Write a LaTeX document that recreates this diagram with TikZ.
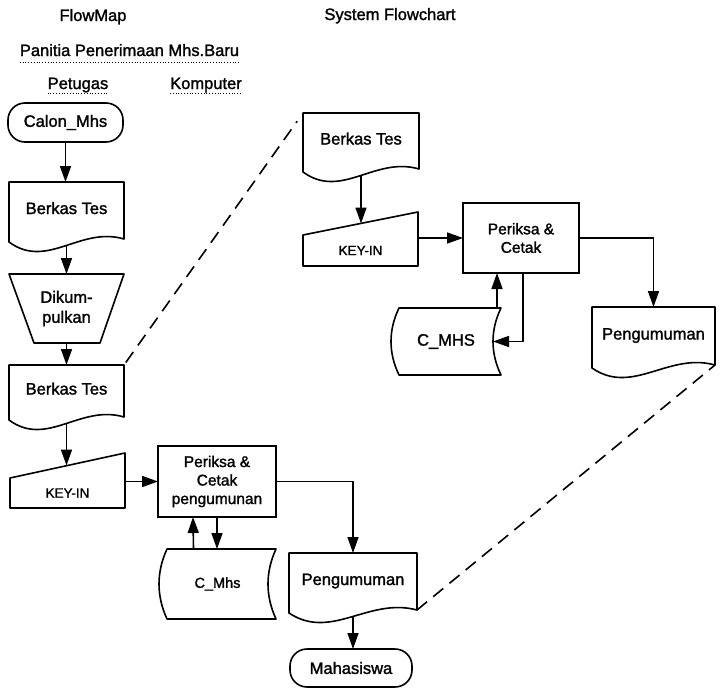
\documentclass[tikz,border=0pt]{standalone}
\usepackage{fontspec}
\setmainfont{Liberation Sans}[FakeBold=1.5]
\usetikzlibrary{arrows.meta,calc}

% outline of a document symbol (wavy lower edge) around a named node
\newcommand{\docoutline}[1]{%
  \draw[outline] (#1.south west) -- (#1.north west) -- (#1.north east) -- ($(#1.south east)+(0,-3)$)
    .. controls ($(#1.south west)!0.62!(#1.south east)+(0,-16)$)
           and ($(#1.south west)!0.33!(#1.south east)+(0,28)$) .. (#1.south west) -- cycle;}
% outline of a stored-data symbol; #2 = depth of the curved sides
\newcommand{\storeoutline}[2]{%
  \draw[outline] ($(#1.north west)+(#2,0)$) -- (#1.north east)
    .. controls ($(#1.north east)!0.33!(#1.south east)+({-4/3*#2},0)$)
           and ($(#1.south east)!0.33!(#1.north east)+({-4/3*#2},0)$) .. (#1.south east)
    -- ($(#1.south west)+(#2,0)$)
    .. controls ($(#1.south west)!0.33!(#1.north west)+({-#2/3},0)$)
           and ($(#1.north west)!0.33!(#1.south west)+({-#2/3},0)$) .. cycle;}
% outline of a manual-input symbol; #2 = rise of the sloped top edge
\newcommand{\keyoutline}[2]{%
  \draw[outline] (#1.north west) -- ($(#1.north east)+(0,-#2)$) -- (#1.south east)
    -- (#1.south west) -- cycle;}

\tikzset{
  outline/.style={line width=1.6pt, line join=round},
  arr/.style={line width=1.6pt, -{Triangle[length=16pt,width=11pt]}},
  linkline/.style={line width=1.6pt, dash pattern=on 13pt off 8pt},
  base/.style={inner sep=0pt, outer sep=0pt, font=\fontsize{16.5}{18}\selectfont, align=center},
  title/.style={inner sep=0pt, anchor=base, font=\fontsize{16.5}{18}\selectfont},
  terminal/.style={base, draw, line width=1.6pt, rounded corners=17pt},
  process/.style={base, draw, line width=1.6pt, font=\fontsize{15.5}{18.5}\selectfont},
  doc/.style={base, text height=12pt, text depth=8pt},
  keyin/.style={base, font=\fontsize{13.5}{16}\selectfont},
  store/.style={base},
  underl/.style={line width=0.8pt, dotted},
}

\begin{document}
\begin{tikzpicture}[x=1pt, y=-1pt]
\path[use as bounding box] (0,0) rectangle (720,699);

% headings
\node[title] (hfm) at (93,21) {FlowMap};
\node[title] (hsf) at (390,20) {System Flowchart};
\node[title] (hpan) at (129.5,56) {Panitia Penerimaan Mhs.Baru};
\node[title] (hpet) at (78,89) {Petugas};
\node[title] (hkom) at (206,89) {Komputer};
\draw[underl] (hpan.base west) ++(0,6) coordinate (u1) -- (u1 -| hpan.base east);
\draw[underl] (hpet.base west) ++(0,4) coordinate (u2) -- (u2 -| hpet.base east);
\draw[underl] (hkom.base west) ++(0,4) coordinate (u3) -- (u3 -| hkom.base east);

% ---------------- FlowMap ----------------
\node[terminal, minimum width=115pt, minimum height=39pt] (calon) at (65.5,122.5) {Calon\_Mhs};

\node[doc, minimum width=115pt, minimum height=60pt] (b1) at (66.5,212) {Berkas Tes};
\docoutline{b1}

\node[base, minimum width=115pt, minimum height=69pt] (kumpul) at (66.5,308.5) {Dikum-\\[2pt]pulkan};
\draw[outline] (kumpul.north west) -- (kumpul.north east) -- ($(kumpul.south east)+(-24,0)$)
  -- ($(kumpul.south west)+(25,0)$) -- cycle;

\node[doc, minimum width=115pt, minimum height=55pt] (b2) at (66.5,392.5) {Berkas Tes};
\docoutline{b2}

\node[keyin, minimum width=115pt, minimum height=30pt] (key1) at (67.5,493) {KEY-IN};
\keyoutline{key1}{25}
\coordinate (k1top) at ($(key1.north west)!0.5!($(key1.north east)+(0,-25)$)$);

\node[process, minimum width=118pt, minimum height=71pt] (proc1) at (217,481.5) {Periksa \&\\Cetak\\pengumunan};

\node[store, minimum width=117pt, minimum height=70pt, font=\fontsize{14.5}{17}\selectfont] (cmhs1) at (217.5,584) {C\_Mhs};
\storeoutline{cmhs1}{8}

\node[doc, minimum width=128pt, minimum height=60pt] (peng1) at (353,583) {Pengumuman};
\docoutline{peng1}

\node[terminal, minimum width=122pt, minimum height=38pt] (mhs) at (351,668) {Mahasiswa};

\draw[arr] (calon.south) -- (calon.south |- b1.north);
\draw[arr] ($(b1.south)+(0,4)$) -- (b1.south |- kumpul.north);
\draw[arr] (kumpul.south) -- (kumpul.south |- b2.north);
\draw[arr] ($(b2.south)+(0,4)$) -- (b2.south |- k1top);
\draw[arr] (proc1.west -| key1.east) -- (proc1.west);
\draw[arr] ($(cmhs1.north)+(-24,0)$) -- ($(proc1.south)+(-24,0)$);
\draw[arr] (proc1.south) -- (proc1.south |- cmhs1.north);
\draw[arr] (proc1.east) -| (peng1.north);
\draw[arr] ($(peng1.south)+(0,4)$) -- (peng1.south |- mhs.north);

% ---------------- System Flowchart ----------------
\node[doc, minimum width=116pt, minimum height=59pt] (b3) at (361,142.5) {Berkas Tes};
\docoutline{b3}

\node[keyin, minimum width=115pt, minimum height=31pt] (key2) at (360.5,250.5) {KEY-IN};
\keyoutline{key2}{23}
\coordinate (k2top) at ($(key2.north west)!0.5!($(key2.north east)+(0,-23)$)$);

\node[process, minimum width=116pt, minimum height=70pt] (proc2) at (521,238) {Periksa \&\\Cetak};

\node[store, minimum width=110pt, minimum height=67pt] (cmhs2) at (446,341.5) {C\_MHS};
\storeoutline{cmhs2}{8}
\coordinate (c2up) at ($(cmhs2.north east)+(-4,0)$);
\coordinate (c2in) at ($(cmhs2.east)+(-8,0)$);

\node[doc, minimum width=123pt, minimum height=61pt] (peng2) at (653.5,337.5) {Pengumuman};
\docoutline{peng2}

\draw[arr] ($(b3.south)+(0,4)$) -- (b3.south |- k2top);
\draw[arr] (proc2.west -| key2.east) -- (proc2.west);
\draw[arr] (c2up) -- (c2up |- proc2.south);
\draw[arr] ($(proc2.south)+(2,0)$) |- (c2in);
\draw[arr] (proc2.east) -| (peng2.north);

% links between the two views
\draw[linkline, shorten <=3pt, shorten >=10pt] (b2.north east) -- (b3.north west);
\draw[linkline] ($(peng1.south east)+(0,-3)$) -- ($(peng2.south east)+(0,-3)$);

\end{tikzpicture}
\end{document}
